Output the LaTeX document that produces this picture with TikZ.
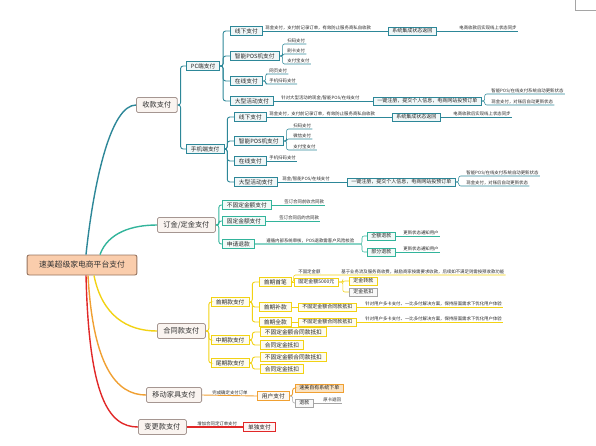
\documentclass[tikz,border=0pt]{standalone}
\usepackage{fontspec}
\setmainfont{Noto Sans CJK SC}
\definecolor{bl}{RGB}{45,135,152}
\definecolor{gr}{RGB}{50,180,155}
\definecolor{ye}{RGB}{242,210,20}
\definecolor{org}{RGB}{240,160,50}
\definecolor{rd}{RGB}{225,40,40}
\definecolor{gy}{RGB}{165,165,165}
\definecolor{rootF}{RGB}{250,205,172}
\definecolor{rootD}{RGB}{150,115,95}
\definecolor{loneF}{RGB}{250,244,240}
\definecolor{loneD}{RGB}{165,150,145}
\tikzset{
 root/.style={draw=rootD, fill=rootF, rounded corners=2pt, line width=0.9pt, font=\fontsize{7.8}{9}\selectfont, minimum height=20pt, inner xsep=12pt, inner ysep=1pt, text=black!80},
 lone/.style={draw=loneD, fill=loneF, rounded corners=1.5pt, line width=0.8pt, font=\fontsize{7.2}{8}\selectfont, minimum height=15pt, inner xsep=6pt, inner ysep=1pt, anchor=west, text=black!80},
 box/.style={draw=#1, fill=#1!7, line width=0.8pt, font=\fontsize{5.7}{6.5}\selectfont, minimum height=9pt, inner xsep=4.5pt, inner ysep=0.8pt, anchor=west, text=black!85},
 sbox/.style={draw=#1, fill=#1!7, line width=0.7pt, font=\fontsize{5}{6}\selectfont, minimum height=8pt, inner xsep=4pt, inner ysep=0.8pt, anchor=west, text=black!85},
 leaf/.style={font=\fontsize{4.4}{5}\selectfont, inner xsep=1.2pt, inner ysep=0.7pt, anchor=south west, text=black!85},
 trunk/.style={draw=#1, line width=1.4pt},
 con/.style={draw=#1, line width=0.9pt, rounded corners=2.5pt},
 thin/.style={draw=#1, line width=0.55pt, rounded corners=2pt},
}
\begin{document}
\begin{tikzpicture}[x=1pt,y=-1pt]
\useasboundingbox (0,0) rectangle (596,445);
\draw[gy, line width=0.6pt] (575.5,-2) rectangle (598,10);
% root and level 1
\node[root] (root) at (82,265) {速美超级家电商平台支付};
\node[lone] (sk) at (136,105) {收款支付};
\node[lone] (dj) at (157,225) {订金/定金支付};
\node[lone] (ht) at (157,331) {合同款支付};
\node[lone] (yd) at (146,395) {移动家具支付};
\node[lone] (bg) at (138,427) {变更款支付};
\draw[trunk=bl] ([xshift=4pt]root.north) .. controls +(8,-75) and +(-25,0) .. (sk.west);
\draw[trunk=gr] ([xshift=18pt]root.north) .. controls +(8,-22) and +(-25,0) .. (dj.west);
\draw[trunk=ye] ([xshift=12pt]root.south) .. controls +(8,40) and +(-30,0) .. (ht.west);
\draw[trunk=org] ([xshift=6pt]root.south) .. controls +(5,90) and +(-30,0) .. (yd.west);
\draw[trunk=rd] ([xshift=4pt]root.south) .. controls +(3,120) and +(-30,0) .. (bg.west);
% ---------- 收款支付 ----------
\node[box=bl] (pc) at (186,66) {PC端支付};
\node[box=bl] (sj) at (186,149) {手机端支付};
\foreach \n in {pc,sj} \draw[con=bl] (sk.east) -- ++(3,0) |- (\n.west);
\node[box=bl] (pc1) at (230,31) {线下支付};
\node[box=bl] (pc2) at (230,56) {智能POS机支付};
\node[box=bl] (pc3) at (230,81) {在线支付};
\node[box=bl] (pc4) at (230,101) {大型活动支付};
\foreach \n in {pc1,pc2,pc3,pc4} \draw[con=bl] (pc.east) -- ++(3,0) |- (\n.west);
% pc1
\node[leaf] (pc1t) at (264,31) {现金支付，支付前记录订单，有效防止服务商私自收款};
\node[sbox=bl] (pc1b) at (388,31) {系统集成状态返回};
\node[leaf] (pc1c) at (458,31) {电商收款后实现线上状态同步};
\draw[thin=bl] (pc1.east) -- (pc1b.west);
\draw[thin=bl] (pc1b.east) -- (pc1c.south east);
% pc2
\node[leaf] (pc2a) at (286,44) {扫码支付};
\node[leaf] (pc2b) at (286,54) {刷卡支付};
\node[leaf] (pc2c) at (286,64) {支付宝支付};
\foreach \n in {pc2a,pc2b,pc2c} \draw[thin=bl] (pc2.east) -- ++(3,0) |- (\n.south west) -- (\n.south east);
% pc3
\node[leaf] (pc3a) at (268,74) {网页支付};
\node[leaf] (pc3b) at (268,84) {手机扫码支付};
\foreach \n in {pc3a,pc3b} \draw[thin=bl] (pc3.east) -- ++(3,0) |- (\n.south west) -- (\n.south east);
% pc4
\node[leaf] (pc4t) at (280,101) {针对大型活动的现金/智能POS/在线支付};
\node[sbox=bl] (pc4b) at (373,101) {一键注册，提交个人信息，电商网站投预订单};
\node[leaf] (pc4c) at (490,94) {智能POS/在线支付系统自动更新状态};
\node[leaf] (pc4d) at (490,105) {现金支付，对账后自动更新状态};
\draw[thin=bl] (pc4.east) -- (pc4b.west);
\foreach \n in {pc4c,pc4d} \draw[thin=bl] (pc4b.east) -- ++(3,0) |- (\n.south west) -- (\n.south east);
% 手机端
\node[box=bl] (sj1) at (234,117) {线下支付};
\node[box=bl] (sj2) at (234,141) {智能POS机支付};
\node[box=bl] (sj3) at (234,161) {在线支付};
\node[box=bl] (sj4) at (234,182) {大型活动支付};
\foreach \n in {sj1,sj2,sj3,sj4} \draw[con=bl] (sj.east) -- ++(3,0) |- (\n.west);
\node[leaf] (sj1t) at (268,117) {现金支付，支付前记录订单，有效防止服务商私自收款};
\node[sbox=bl] (sj1b) at (392,117) {系统集成状态返回};
\node[leaf] (sj1c) at (452,117) {电商收款后实现线上状态同步};
\draw[thin=bl] (sj1.east) -- (sj1b.west);
\draw[thin=bl] (sj1b.east) -- (sj1c.south east);
\node[leaf] (sj2a) at (292,129) {扫码支付};
\node[leaf] (sj2b) at (292,139) {微信支付};
\node[leaf] (sj2c) at (292,150) {支付宝支付};
\foreach \n in {sj2a,sj2b,sj2c} \draw[thin=bl] (sj2.east) -- ++(3,0) |- (\n.south west) -- (\n.south east);
\node[leaf] (sj3a) at (268,161) {手机扫码支付};
\draw[thin=bl] (sj3.east) -- (sj3a.south east);
\node[leaf] (sj4t) at (281,182) {现金/智能POS/在线支付};
\node[sbox=bl] (sj4b) at (347,182) {一键注册，提交个人信息，电商网站投预订单};
\node[leaf] (sj4c) at (465,176) {智能POS/在线支付系统自动更新状态};
\node[leaf] (sj4d) at (465,186) {现金支付，对账后自动更新状态};
\draw[thin=bl] (sj4.east) -- (sj4b.west);
\foreach \n in {sj4c,sj4d} \draw[thin=bl] (sj4b.east) -- ++(3,0) |- (\n.south west) -- (\n.south east);
% ---------- 订金/定金支付 ----------
\node[box=gr] (d1) at (222,205) {不固定金额支付};
\node[box=gr] (d2) at (222,221) {固定金额支付};
\node[box=gr] (d3) at (222,244) {申请退款};
\foreach \n in {d1,d2,d3} \draw[con=gr] (dj.east) -- ++(3,0) |- (\n.west);
\node[leaf] (d1t) at (283,205) {签订合同前收合同款};
\node[leaf] (d2t) at (278,221) {签订合同后的合同款};
\draw[thin=gr] (d1.east) -- (d1t.south east);
\draw[thin=gr] (d2.east) -- (d2t.south east);
\node[leaf] (d3t) at (265,244) {遵循内部系统审核，POS退款需客户风险校验};
\coordinate (d3j) at (362,244);
\node[sbox=gr] (r1) at (367,236) {全额退款};
\node[sbox=gr] (r2) at (367,252) {部分退款};
\foreach \n in {r1,r2} \draw[thin=gr] (d3.east) -- (d3j) |- (\n.west);
\node[leaf] (r1t) at (402,236) {更新状态通知用户};
\node[leaf] (r2t) at (402,252) {更新状态通知用户};
\draw[thin=gr] (r1.east) -- (r1t.south east);
\draw[thin=gr] (r2.east) -- (r2t.south east);
% ---------- 合同款支付 ----------
\node[box=ye] (h1) at (211,302) {首期款支付};
\node[box=ye] (h2) at (211,340) {中期款支付};
\node[box=ye] (h3) at (211,363) {尾期款支付};
\foreach \n in {h1,h2,h3} \draw[con=ye] (ht.east) -- ++(3,0) |- (\n.west);
\node[box=ye] (h11) at (259,282) {首期首笔};
\node[box=ye] (h12) at (259,307) {首期补款};
\node[box=ye] (h13) at (259,322) {首期全款};
\foreach \n in {h11,h12,h13} \draw[con=ye] (h1.east) -- ++(3,0) |- (\n.west);
\node[leaf] (nb) at (297,275) {不固定金额};
\node[leaf] (nbt) at (340,275) {基于业务流及服务商收费，鼓励商家按需要求收款，后续如不满足则需按预收款功能};
\draw[thin=ye] (h11.east) -- ++(2,0) |- (nb.south west) -- (nbt.south east);
\node[sbox=ye, fill=white] (h11b) at (294,282) {固定金额5000元};
\draw[thin=ye] (h11.east) -- (h11b.west);
\node[sbox=ye] (dz1) at (349,281) {定金转款};
\node[sbox=gy] (dz2) at (349,292) {定金抵扣};
\foreach \n in {dz1,dz2} \draw[thin=ye] (h11b.east) -- ++(4,0) |- (\n.west);
\node[sbox=ye] (h12b) at (298,307) {不固定金额合同款抵扣};
\node[sbox=ye] (h13b) at (298,322) {不固定金额合同款抵扣};
\draw[thin=ye] (h12.east) -- (h12b.west);
\draw[thin=ye] (h13.east) -- (h13b.west);
\node[leaf] (h12t) at (364,307) {针对用户多卡支付、一比多付解决方案，保持层面需求下优化用户体验};
\node[leaf] (h13t) at (364,322) {针对用户多卡支付、一比多付解决方案，保持层面需求下优化用户体验};
\draw[thin=ye] (h12b.east) -- (h12t.south east);
\draw[thin=ye] (h13b.east) -- (h13t.south east);
\node[box=ye] (h2a) at (260,332) {不固定金额合同款抵扣};
\node[box=ye] (h2b) at (260,345) {合同定金抵扣};
\foreach \n in {h2a,h2b} \draw[con=ye] (h2.east) -- ++(3,0) |- (\n.west);
\node[box=ye] (h3a) at (260,357) {不固定金额合同款抵扣};
\node[box=ye] (h3b) at (260,369) {合同定金抵扣};
\foreach \n in {h3a,h3b} \draw[con=ye] (h3.east) -- ++(3,0) |- (\n.west);
% ---------- 移动家具支付 ----------
\node[leaf] (ydt) at (211,396) {完成确定支付订单};
\node[box=org] (yu) at (257,396) {用户支付};
\draw[con=org] (yd.east) -- (yu.west);
\node[sbox=org, fill=org!30] (ys) at (295,388) {速美自有系统下单};
\node[sbox=gy] (tk) at (295,403) {退款};
\draw[con=org] (yu.east) -- ++(3,0) |- (ys.west);
\draw[thin=gy] (yu.east) -- ++(3,0) |- (tk.west);
\node[leaf] (tkt) at (322,403) {原卡退回};
\draw[thin=gy] (tk.east) -- (tkt.south east);
% ---------- 变更款支付 ----------
\node[leaf] (bgt) at (196,427) {增加合同定订单支付};
\node[box=rd, line width=1.1pt, fill=rd!5] (dd) at (243,427) {单独支付};
\draw[con=rd, line width=1.1pt] (bg.east) -- (dd.west);
\end{tikzpicture}
\end{document}
